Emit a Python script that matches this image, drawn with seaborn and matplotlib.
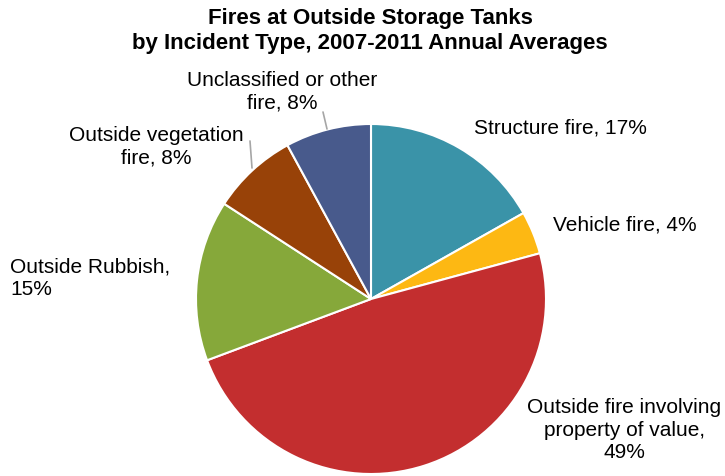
import matplotlib
matplotlib.use("Agg")
import matplotlib.pyplot as plt
import seaborn as sns

# data (clockwise from 12 o'clock)
categories = ["Structure fire", "Vehicle fire", "Outside fire involving property of value",
              "Outside Rubbish", "Outside vegetation fire", "Unclassified or other fire"]
shares = [17, 4, 49, 15, 8, 8]
label_texts = ["Structure fire, 17%", "Vehicle fire, 4%",
               "Outside fire involving\nproperty of value,\n49%",
               "Outside Rubbish,\n15%", "Outside vegetation\nfire, 8%",
               "Unclassified or other\nfire, 8%"]
colors = sns.color_palette(["#3A93A8", "#FDB813", "#C32E2F", "#86A83A", "#984208", "#485A8C"])

sns.set_theme(style="white")
plt.rcParams["font.family"] = ["Liberation Sans", "DejaVu Sans"]

W, H = 725, 476
fig = plt.figure(figsize=(W / 100, H / 100), dpi=100)
cx, cy, r = 371, 299, 175
ax = fig.add_axes([(cx - r) / W, (H - cy - r) / H, 2 * r / W, 2 * r / H])

ax.pie(shares, colors=colors, startangle=90, counterclock=False, radius=1,
       wedgeprops=dict(edgecolor="white", linewidth=1.5))
ax.set_xlim(-1, 1)
ax.set_ylim(-1, 1)
ax.set_aspect("equal")
ax.axis("off")


def px(x, y):
    # pixel position -> data coords of the pie axes
    return (x - cx) / r, (cy - y) / r


# label placement (pixel centres) and alignment
label_pos = [(474, 128, "left"), (553, 225, "left"), (624, 430, "center"),
             (10, 278, "left"), (156, 147, "center"), (282, 92, "center")]
for txt, (x, y, ha) in zip(label_texts, label_pos):
    tx, ty = px(x, y)
    ax.text(tx, ty, txt, ha=ha, va="center", fontsize=15, linespacing=1.25,
            color="black")

# leader lines
for (x0, y0), (x1, y1) in [((323, 112), (327, 129)), ((250, 141), (252, 168))]:
    a, b = px(x0, y0)
    c, d = px(x1, y1)
    ax.plot([a, c], [b, d], color="#A6A6A6", lw=1.2, clip_on=False)

fig.text(370 / W, 1 - 31 / H, "Fires at Outside Storage Tanks\nby Incident Type, 2007-2011 Annual Averages",
         ha="center", va="center", fontsize=16, fontweight="bold", linespacing=1.22,
         color="black")

fig.savefig("out.png", dpi=100)
